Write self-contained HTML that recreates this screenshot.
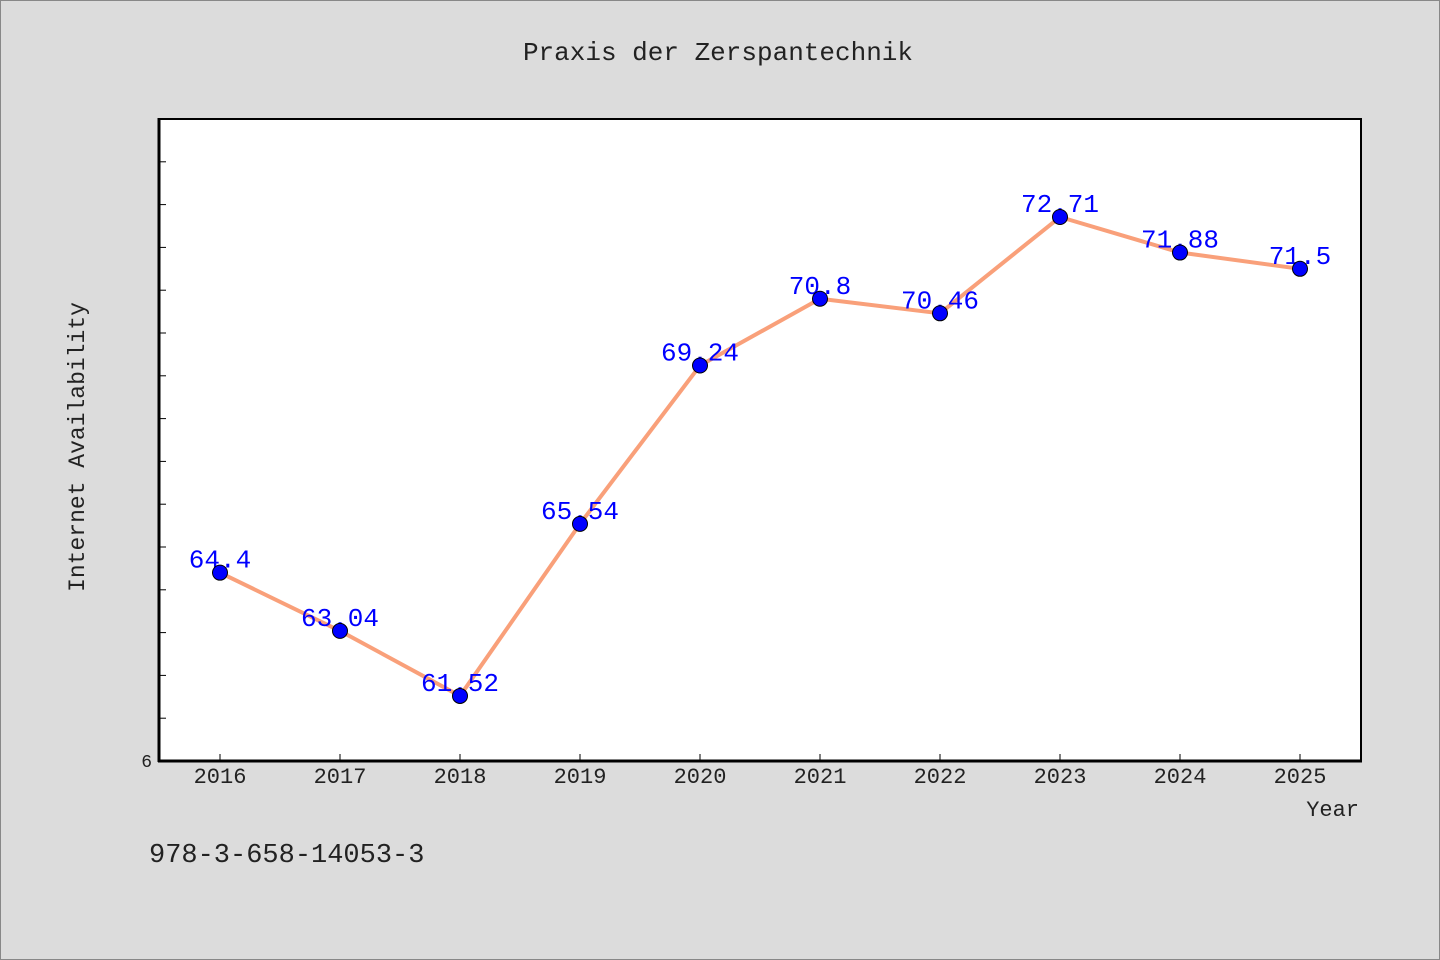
<!DOCTYPE html>
<html><head><meta charset="utf-8"><style>
html,body{margin:0;padding:0;background:#dcdcdc;}
svg{display:block;font-family:"Liberation Mono","DejaVu Sans Mono",monospace;}
</style></head><body>
<svg id="chart" width="1440" height="960" xmlns="http://www.w3.org/2000/svg">
<rect x="0.5" y="0.5" width="1439" height="959" fill="#dcdcdc" stroke="#888"/>
<text x="718" y="60" font-size="26" text-anchor="middle" fill="#222">Praxis der Zerspantechnik</text>
<rect x="159" y="119" width="1202" height="642" fill="#fff" stroke="#000" stroke-width="2"/>
<g id="ticks"></g>
<g id="series"></g>
<line x1="159" y1="118" x2="159" y2="762" stroke="#000" stroke-width="3"/>
<line x1="158" y1="761" x2="1362" y2="761" stroke="#000" stroke-width="3"/>
<text x="152" y="767" font-size="18" text-anchor="end" fill="#222">6</text>
<text transform="translate(84,447) rotate(-90)" font-size="23" text-anchor="middle" fill="#222">Internet Availability</text>
<text x="1359" y="816" font-size="22" text-anchor="end" fill="#222">Year</text>
<text x="149" y="862" font-size="27" fill="#222">978-3-658-14053-3</text>
</svg>
<script>
const years = ["2016","2017","2018","2019","2020","2021","2022","2023","2024","2025"];
const values = [64.4, 63.04, 61.52, 65.54, 69.24, 70.8, 70.46, 72.71, 71.88, 71.5];
const valueLabels = ["64.4","63.04","61.52","65.54","69.24","70.8","70.46","72.71","71.88","71.5"];
const yMin = 60, yMax = 75;
const NS = "http://www.w3.org/2000/svg";
const X = i => 220 + i * 120;
const Y = v => 761 - (v - yMin) * (642 / (yMax - yMin));
function mk(tag, attrs, parent) {
  const e = document.createElementNS(NS, tag);
  for (const k in attrs) e.setAttribute(k, attrs[k]);
  parent.appendChild(e);
  return e;
}
const ticks = document.getElementById('ticks');
for (let v = yMin + 1; v < yMax; v++) {
  const t = mk('line', {x1:159, x2:166, y1:Y(v), y2:Y(v), stroke:'#000', 'stroke-width':1}, ticks);
  
  
}
years.forEach((yr, i) => {
  const t = mk('line', {x1:X(i), x2:X(i), y1:761, y2:754, stroke:'#000', 'stroke-width':1}, ticks);
  
  
  const l = mk('text', {x:X(i), y:783, 'font-size':22, 'text-anchor':'middle', fill:'#222'}, ticks);
  l.textContent = yr;
  
  
});
const series = document.getElementById('series');
const pts = values.map((v, i) => X(i) + ',' + Y(v)).join(' ');
const line = mk('polyline', {points:pts, fill:'none', stroke:'#f9a07a', 'stroke-width':4, 'stroke-linejoin':'round'}, series);


values.forEach((v, i) => {
  const lbl = mk('text', {x:X(i), y:Y(v) - 5, 'font-size':26, 'text-anchor':'middle', fill:'#0000ff'}, series);
  lbl.textContent = valueLabels[i];
  
  
});
values.forEach((v, i) => {
  const c = mk('circle', {cx:X(i), cy:Y(v), r:7.5, fill:'#0000ff', stroke:'#000', 'stroke-width':1}, series);
  
  
});
</script>
</body></html>
